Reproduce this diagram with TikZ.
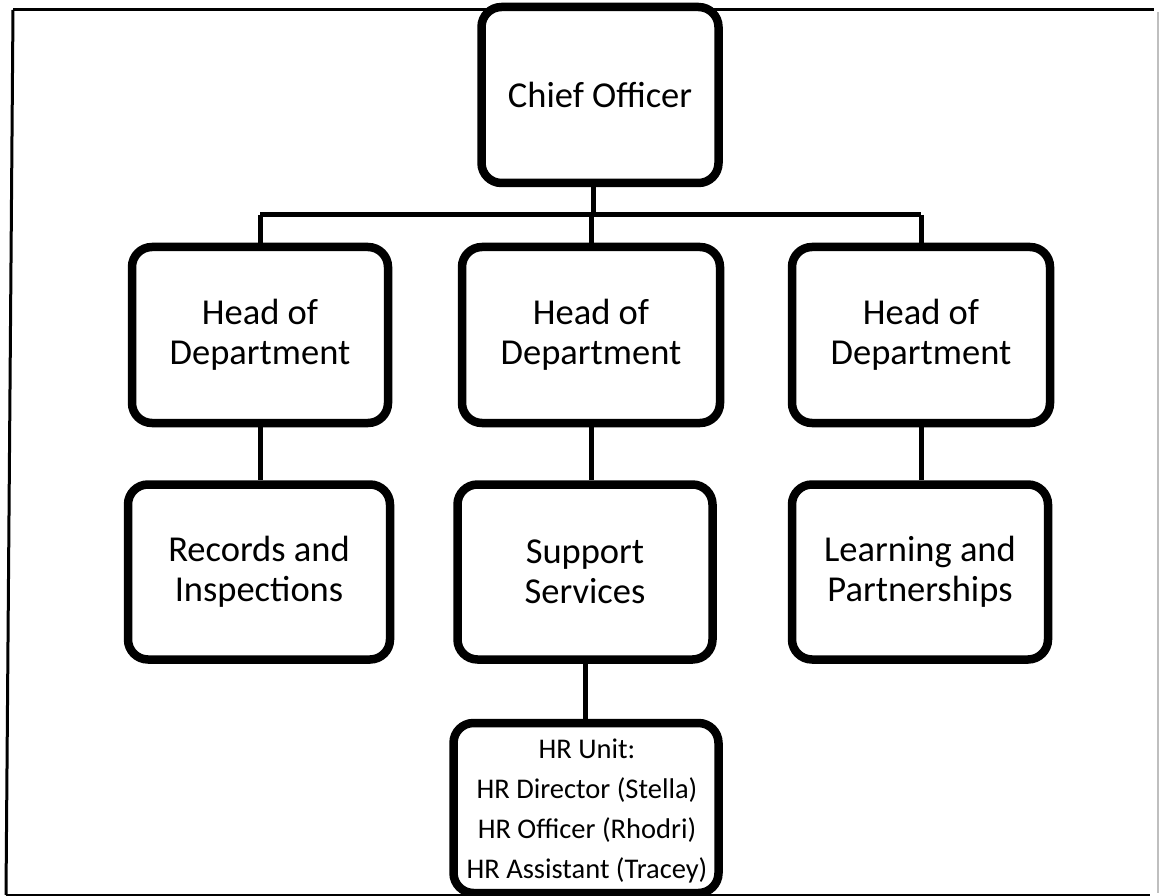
\documentclass[tikz,border=0pt]{standalone}
\usepackage{fontspec}
\setmainfont{Carlito}
\begin{document}
\begin{tikzpicture}[x=1pt,y=-1pt,
  orgbox/.style={draw=black, line width=8.5pt, rounded corners=20pt, fill=white,
    align=center, font=\fontsize{36.5}{40}\selectfont, inner sep=0pt},
  hrtextstyle/.style={align=center, font=\fontsize{28.5}{40}\selectfont, inner sep=0pt},
  link/.style={draw=black, line width=5pt},
  frame/.style={draw=black, line width=3pt}]
  \useasboundingbox (0,0) rectangle (1160,896);

  % outer frame
  \draw[frame] (13,10) -- (1154,10);
  \draw[frame] (13,10) -- (6,895);
  \draw[frame] (6,895) -- (1150,895);
  \draw[draw=black!25, line width=1.5pt] (1158,12) -- (1158,893);

  % boxes
  \node[orgbox, minimum width=237pt, minimum height=176pt] (chief) at (600,95) {Chief Officer};

  \node[orgbox, minimum width=256pt, minimum height=176pt] (h1) at (260,335) {Head of\\Department};
  \node[orgbox, minimum width=258pt, minimum height=176pt] (h2) at (591,335) {Head of\\Department};
  \node[orgbox, minimum width=258pt, minimum height=176pt] (h3) at (921,335) {Head of\\Department};

  \node[orgbox, minimum width=262pt, minimum height=175pt] (u1) at (259,572) {Records and\\Inspections};
  \node[orgbox, minimum width=255pt, minimum height=175pt] (u2) at (585,572) {Support\\Services};
  \node[orgbox, minimum width=256pt, minimum height=175pt] (u3) at (920,572) {Learning and\\Partnerships};

  \node[orgbox, minimum width=265pt, minimum height=170pt] (hr) at (586,808) {};
  \node[hrtextstyle, anchor=north] (hrtext) at (587,739) {HR Unit:\\HR Director (Stella)\\HR Officer (Rhodri)\\HR Assistant (Tracey)};

  % connectors
  \coordinate (bar) at (0,215);
  \draw[link] ([xshift=-7pt]chief.south) -- ([xshift=-7pt]chief.south |- bar);
  \draw[link] (h1.north |- bar) -- (h3.north |- bar);
  \draw[link] (h1.north |- bar) -- (h1.north);
  \draw[link] (h2.north |- bar) -- (h2.north);
  \draw[link] (h3.north |- bar) -- (h3.north);
  \draw[link] (h1.south) -- (h1.south |- u1.north);
  \draw[link] (h2.south) -- (h2.south |- u2.north);
  \draw[link] (h3.south) -- (h3.south |- u3.north);
  \draw[link] (u2.south) -- (u2.south |- hr.north);
\end{tikzpicture}
\end{document}
